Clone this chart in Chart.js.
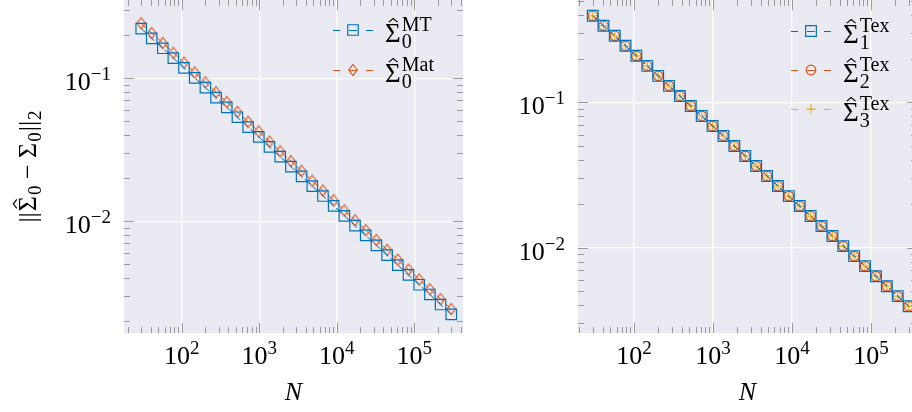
<!DOCTYPE html>
<html>
<head>
<meta charset="utf-8">
<script src="https://cdn.jsdelivr.net/npm/chart.js@4.4.1/dist/chart.umd.min.js"></script>
<style>
  html, body { margin: 0; padding: 0; background: #fff; width: 912px; height: 412px; overflow: hidden; position: relative; }
  #leftChart { position: absolute; left: 0; top: 0; }
  #rightChart { position: absolute; left: 470px; top: 0; }
</style>
</head>
<body>
<canvas id="leftChart" width="470" height="412"></canvas>
<canvas id="rightChart" width="460" height="412"></canvas>
<script>
// sample sizes N (shared by both panels)
const sampleSizes = [30, 41, 57, 78, 107, 147, 202, 277, 381, 523, 719, 987, 1356, 1863, 2560,
  3517, 4832, 6638, 9119, 12528, 17211, 23646, 32487, 44631, 61317, 84240, 115733, 159000, 218443, 300000];

// left panel errors
const errMT = [0.2228, 0.1901, 0.1622, 0.1384, 0.1181, 0.1007, 0.0860, 0.0733, 0.0626, 0.0534,
  0.0455, 0.0389, 0.0331, 0.0283, 0.0241, 0.0206, 0.0176, 0.0150, 0.0128, 0.0109,
  0.00931, 0.00795, 0.00678, 0.00578, 0.00493, 0.00421, 0.00359, 0.00307, 0.00261, 0.00223];
const errMat = [0.2429, 0.2072, 0.1768, 0.1509, 0.1287, 0.1098, 0.0937, 0.0799, 0.0682, 0.0582,
  0.0496, 0.0424, 0.0361, 0.0308, 0.0263, 0.0225, 0.0192, 0.0164, 0.0140, 0.0119,
  0.01015, 0.00866, 0.00739, 0.00630, 0.00538, 0.00459, 0.00391, 0.00334, 0.00285, 0.00243];

// right panel errors
const errTex1 = [0.394, 0.3362, 0.2868, 0.2447, 0.2088, 0.1781, 0.1520, 0.1297, 0.1106, 0.0944,
  0.0805, 0.0687, 0.0586, 0.0500, 0.0427, 0.0364, 0.0311, 0.0265, 0.0226, 0.0193,
  0.01647, 0.01405, 0.01199, 0.01023, 0.00873, 0.00745, 0.00635, 0.00542, 0.00463, 0.00394];
const errTex2 = [0.394, 0.3362, 0.2868, 0.2447, 0.2088, 0.1781, 0.1520, 0.1297, 0.1106, 0.0944,
  0.0805, 0.0687, 0.0586, 0.0500, 0.0427, 0.0364, 0.0311, 0.0265, 0.0226, 0.0193,
  0.01647, 0.01405, 0.01199, 0.01023, 0.00873, 0.00745, 0.00635, 0.00542, 0.00463, 0.00394];
const errTex3 = [0.394, 0.3362, 0.2868, 0.2447, 0.2088, 0.1781, 0.1520, 0.1297, 0.1106, 0.0944,
  0.0805, 0.0687, 0.0586, 0.0500, 0.0427, 0.0364, 0.0311, 0.0265, 0.0226, 0.0193,
  0.01647, 0.01405, 0.01199, 0.01023, 0.00873, 0.00745, 0.00635, 0.00542, 0.00463, 0.00394];

// tick labels: value + exponent text
const xTickValues = [1e2, 1e3, 1e4, 1e5];
const xTickExps = ['2', '3', '4', '5'];
const yTickValues = [1e-1, 1e-2];
const yTickExps = ['\u22121', '\u22122'];

// legend text pieces
const leftSubs = ['0', '0'];
const leftSups = ['MT', 'Mat'];
const rightSubs = ['1', '2', '3'];
const rightSups = ['Tex', 'Tex', 'Tex'];

const SERIF = '"Liberation Serif", "DejaVu Serif", serif';
const BLUE = '#0072BD';
const ORANGE = '#D95319';
const YELLOW = '#EDB120';
const TICK_GREY = '#9a9a9a';

// thin diamond marker (matplotlib 'd')
function thinDiamond(color) {
  const c = document.createElement('canvas');
  c.width = 12; c.height = 14;
  const g = c.getContext('2d');
  g.strokeStyle = color;
  g.lineWidth = 1.1;
  g.beginPath();
  g.moveTo(6, 1.5); g.lineTo(10.3, 7); g.lineTo(6, 12.5); g.lineTo(1.7, 7); g.closePath();
  g.stroke();
  return c;
}

function isMajor(v) {
  const l = Math.log10(v);
  return Math.abs(l - Math.round(l)) < 1e-9;
}

// 1..9 x 10^e ticks between min and max
function logTicks(min, max) {
  const out = [];
  for (let e = Math.floor(Math.log10(min)); e <= Math.ceil(Math.log10(max)); e++) {
    for (let m = 1; m < 10; m++) {
      const v = parseFloat((m * Math.pow(10, e)).toPrecision(6));
      if (v >= min && v <= max) out.push({ value: v, major: m === 1 });
    }
  }
  return out;
}

// draws text runs (sub/superscripts), returns width
function drawRuns(ctx, runs, x, y, draw = true) {
  let cx = x, pending = 0;
  for (const r of runs) {
    ctx.font = `${r.italic ? 'italic ' : ''}${r.size}px ${SERIF}`;
    const w = ctx.measureText(r.t).width + (r.dx || 0);
    if (draw) ctx.fillText(r.t, cx + (r.dx || 0), y + (r.dy || 0));
    if (draw && r.hat) {
      const hx = cx + w * 0.52, top = y - r.size * 0.68 - 5;
      ctx.save();
      ctx.lineWidth = 1.2;
      ctx.strokeStyle = ctx.fillStyle;
      ctx.beginPath();
      ctx.moveTo(hx - w * 0.28, top + 3.5);
      ctx.lineTo(hx, top);
      ctx.lineTo(hx + w * 0.28, top + 3.5);
      ctx.stroke();
      ctx.restore();
    }
    if (r.keep) pending = Math.max(pending, w);
    else { cx += Math.max(pending, w); pending = 0; }
  }
  return cx - x;
}

function crisp(v) { return Math.round(v) + 0.5; }

const axesDecor = {
  id: 'axesDecor',
  beforeDraw(chart) {
    const { ctx, chartArea: a } = chart;
    ctx.save();
    ctx.fillStyle = '#EAEAF2';
    ctx.fillRect(a.left, a.top, a.width, a.height);
    ctx.restore();
  },
  afterDraw(chart, args, opts) {
    const { ctx, chartArea: a } = chart;
    const xs = chart.scales.x, ys = chart.scales.y;
    ctx.save();

    // inward tick marks on all four sides
    ctx.strokeStyle = TICK_GREY;
    ctx.lineWidth = 1;
    ctx.beginPath();
    logTicks(xs.min, xs.max).forEach(t => {
      const px = crisp(xs.getPixelForValue(t.value));
      const len = t.major ? 10 : 6;
      ctx.moveTo(px, a.bottom); ctx.lineTo(px, a.bottom - len);
      ctx.moveTo(px, a.top); ctx.lineTo(px, a.top + len);
    });
    logTicks(ys.min, ys.max).forEach(t => {
      const py = crisp(ys.getPixelForValue(t.value));
      const len = t.major ? 10 : 6;
      ctx.moveTo(a.left, py); ctx.lineTo(a.left + len, py);
      ctx.moveTo(a.right, py); ctx.lineTo(a.right - len, py);
    });
    ctx.stroke();

    // tick labels 10^k
    ctx.fillStyle = '#000';
    ctx.textAlign = 'left';
    ctx.textBaseline = 'alphabetic';
    xTickValues.forEach((v, i) => {
      const runs = [{ t: '10', size: 26 }, { t: xTickExps[i], size: 19, dy: -10 }];
      const w = drawRuns(ctx, runs, 0, 0, false);
      drawRuns(ctx, runs, xs.getPixelForValue(v) - w / 2, 364);
    });
    yTickValues.forEach((v, i) => {
      const runs = [{ t: '10', size: 26 }, { t: yTickExps[i], size: 19, dy: -10 }];
      const w = drawRuns(ctx, runs, 0, 0, false);
      drawRuns(ctx, runs, a.left - 13 - w, ys.getPixelForValue(v) + 12);
    });

    // x title
    const nRuns = [{ t: 'N', size: 26, italic: true }];
    const nw = drawRuns(ctx, nRuns, 0, 0, false);
    drawRuns(ctx, nRuns, (a.left + a.right) / 2 - nw / 2, 400);

    // y title
    if (opts.yTitle) {
      const tRuns = [
        { t: '||', size: 26 },
        { t: '\u03A3', size: 26, hat: true, dx: 1 },
        { t: '0', size: 19, dy: 5, dx: 1 },
        { t: ' \u2212 ', size: 26 },
        { t: '\u03A3', size: 26 },
        { t: '0', size: 19, dy: 5, dx: 1 },
        { t: '||', size: 26, dx: 1 },
        { t: '2', size: 19, dy: 5, dx: 1 }
      ];
      const tw = drawRuns(ctx, tRuns, 0, 0, false);
      ctx.save();
      ctx.translate(36, (a.top + a.bottom) / 2);
      ctx.rotate(-Math.PI / 2);
      drawRuns(ctx, tRuns, -tw / 2, 0);
      ctx.restore();
    }

    // legend
    const lg = opts.legend;
    chart.data.datasets.forEach((ds, i) => {
      const y = lg.y0 + i * lg.dy;
      ctx.strokeStyle = ds.borderColor;
      ctx.lineWidth = 1;
      ctx.beginPath();
      ctx.moveTo(lg.x, y + 0.5); ctx.lineTo(lg.x + 7, y + 0.5);
      ctx.moveTo(lg.x + 16, y + 0.5); ctx.lineTo(lg.x + 24, y + 0.5);
      ctx.moveTo(lg.x + 33, y + 0.5); ctx.lineTo(lg.x + 40, y + 0.5);
      ctx.stroke();
      ctx.fillStyle = 'rgba(0,0,0,0)';
      ctx.lineWidth = ds.pointBorderWidth;
      Chart.helpers.drawPoint(ctx, {
        pointStyle: ds.pointStyle, radius: ds.pointRadius, rotation: 0, borderWidth: ds.pointBorderWidth
      }, lg.x + 20, y);
      ctx.fillStyle = '#000';
      drawRuns(ctx, [
        { t: '\u03A3', size: 27, hat: true },
        { t: ds.sub, size: 20, dy: 6, dx: 1, keep: true },
        { t: ds.sup, size: 20, dy: -11, dx: 1 }
      ], lg.textX, y + 12);
    });

    ctx.restore();
  }
};

function makeSeries(label, values, color, style, radius, sub, sup) {
  return {
    label: label,
    data: sampleSizes.map((n, i) => ({ x: n, y: values[i] })),
    borderColor: color,
    backgroundColor: 'rgba(0,0,0,0)',
    borderWidth: 1,
    borderDash: [7.4, 3.2],
    pointStyle: style,
    pointRadius: radius,
    pointBorderColor: color,
    pointBackgroundColor: 'rgba(0,0,0,0)',
    pointBorderWidth: 1.2,
    fill: false,
    tension: 0,
    sub: sub,
    sup: sup
  };
}

function axis(min, max, horizontal) {
  return {
    type: 'logarithmic',
    min: min,
    max: max,
    ticks: { display: false },
    border: { display: false },
    grid: {
      drawTicks: false,
      lineWidth: 1.3,
      color: c => (c.tick && isMajor(c.tick.value)) ? '#ffffff' : 'rgba(0,0,0,0)'
    },
    afterBuildTicks: s => { s.ticks = logTicks(s.min, s.max).map(t => ({ value: t.value })); },
    afterFit: s => { if (horizontal) s.height = 0; else s.width = 0; }
  };
}

function makeChart(id, datasets, padding, xr, yr, decor) {
  const ctx = document.getElementById(id).getContext('2d');
  return new Chart(ctx, {
    type: 'line',
    data: { datasets: datasets },
    options: {
      responsive: false,
      animation: false,
      devicePixelRatio: 1,
      layout: { padding: padding, autoPadding: false },
      plugins: {
        legend: { display: false },
        tooltip: { enabled: false },
        axesDecor: decor
      },
      scales: {
        x: axis(xr[0], xr[1], true),
        y: axis(yr[0], yr[1], false)
      }
    },
    plugins: [axesDecor]
  });
}

makeChart('leftChart', [
  makeSeries('MT', errMT, BLUE, 'rect', 7.4, leftSubs[0], leftSups[0]),
  makeSeries('Mat', errMat, ORANGE, thinDiamond(ORANGE), 5, leftSubs[1], leftSups[1])
], { left: 124, right: 7, top: 0, bottom: 79 }, [18.0, 425000], [0.00165, 0.353],
  { yTitle: true, legend: { x: 333, y0: 30, dy: 40, textX: 385 } });

makeChart('rightChart', [
  makeSeries('Tex1', errTex1, BLUE, 'rect', 7.6, rightSubs[0], rightSups[0]),
  makeSeries('Tex2', errTex2, ORANGE, 'circle', 4.8, rightSubs[1], rightSups[1]),
  makeSeries('Tex3', errTex3, YELLOW, 'cross', 5, rightSubs[2], rightSups[2])
], { left: 108, right: 13, top: 0, bottom: 79 }, [19.5, 383000], [0.00258, 0.506],
  { yTitle: false, legend: { x: 321, y0: 31, dy: 39, textX: 373 } });
</script>
</body>
</html>
